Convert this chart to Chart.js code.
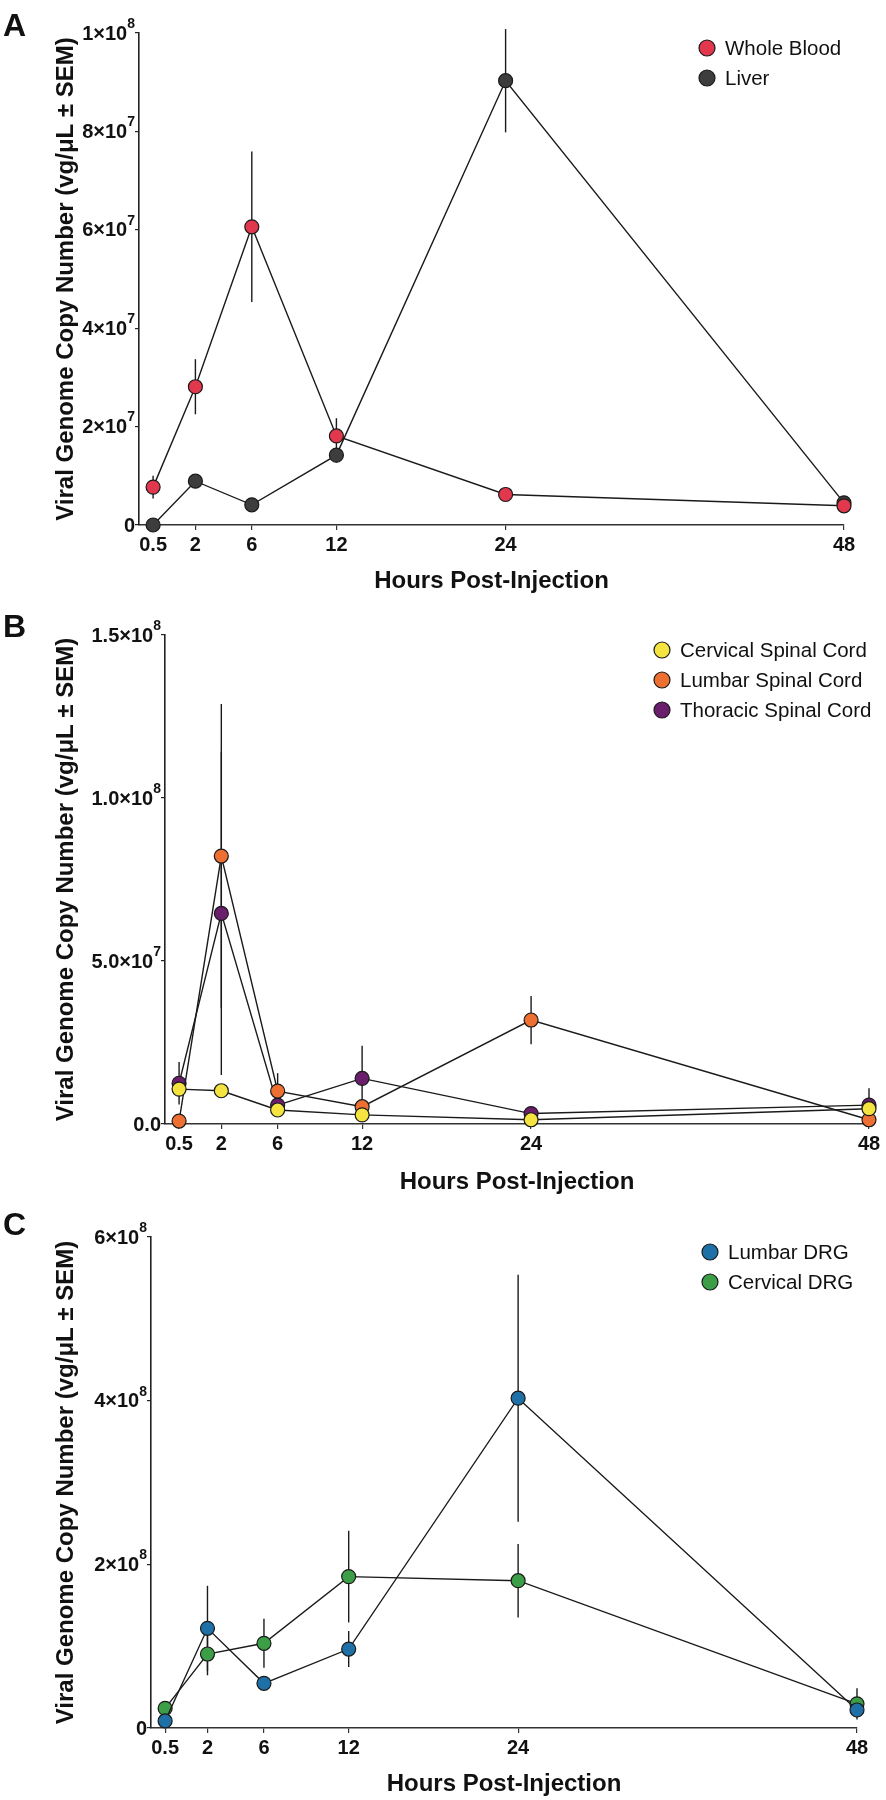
<!DOCTYPE html>
<html>
<head>
<meta charset="utf-8">
<script src="https://cdn.jsdelivr.net/npm/chart.js@4.4.1/dist/chart.umd.min.js"></script>
<style>
  body { margin: 0; background: #fff; }
  .panel { position: relative; width: 886px; height: 600px; }
  canvas { display: block; }
</style>
</head>
<body>
<div class="panel"><canvas id="chartA" width="886" height="600"></canvas></div>
<div class="panel"><canvas id="chartB" width="886" height="600"></canvas></div>
<div class="panel"><canvas id="chartC" width="886" height="600"></canvas></div>
<script>
// time points (hours post-injection)
const hours = [0.5, 2, 6, 12, 24, 48];

// panel A - whole blood / liver
const bloodMean = [7.7e6, 28.1e6, 60.6e6, 18.1e6, 6.2e6, 3.9e6];
const bloodSem  = [2.3e6, 5.6e6, 15.3e6, 3.6e6, 0.6e6, 0.5e6];
const liverMean = [0, 8.9e6, 4.1e6, 14.2e6, 90.3e6, 4.5e6];
const liverSem  = [0, 0.6e6, 0.5e6, 1.5e6, 10.5e6, 0.5e6];
const yTicksA  = [0, 2e7, 4e7, 6e7, 8e7, 1e8];
const yLabelsA = ['0', '2×10⁷', '4×10⁷', '6×10⁷', '8×10⁷', '1×10⁸'];

// panel B - spinal cord
const cervicalMean = [10.7e6, 10.2e6, 4.3e6, 2.8e6, 1.3e6, 4.7e6];
const cervicalSem  = [1.0e6, 1.0e6, 0.8e6, 0.5e6, 0.4e6, 1.0e6];
const lumbarMean   = [0.9e6, 82.2e6, 10.1e6, 5.3e6, 31.9e6, 1.3e6];
const lumbarSem    = [0.5e6, 46.6e6, 5.5e6, 1.5e6, 7.4e6, 0.5e6];
const thoracicMean = [12.5e6, 64.6e6, 5.8e6, 14.0e6, 3.2e6, 5.8e6];
const thoracicSem  = [6.5e6, 49.6e6, 1.5e6, 10.0e6, 0.5e6, 5.2e6];
const yTicksB  = [0, 5e7, 1e8, 1.5e8];
const yLabelsB = ['0.0', '5.0×10⁷', '1.0×10⁸', '1.5×10⁸'];

// panel C - DRG
const lumbarDrgMean   = [8.6e6, 121.8e6, 54.6e6, 96.5e6, 403e6, 22e6];
const lumbarDrgSem    = [3e6, 52e6, 5e6, 22e6, 151e6, 5e6];
const cervicalDrgMean = [24e6, 90.4e6, 103.5e6, 185e6, 180e6, 29.5e6];
const cervicalDrgSem  = [3e6, 26e6, 30e6, 56e6, 45e6, 19e6];
const yTicksC  = [0, 2e8, 4e8, 6e8];
const yLabelsC = ['0', '2×10⁸', '4×10⁸', '6×10⁸'];

const FONT = '"Liberation Sans", Arial, Helvetica, sans-serif';
Chart.defaults.font.family = FONT;
Chart.defaults.color = '#111';

// the original x axis squeezes in the 0.5 h point: the stretch below 2 h is doubled
const warpHours = h => (h >= 2 ? h : 2 - (2 - h) * 2);
class HoursScale extends Chart.LinearScale {
  getPixelForValue(value) {
    if (value === null || value === undefined) return NaN;
    return super.getPixelForValue(warpHours(value));
  }
}
HoursScale.id = 'hours';
HoursScale.defaults = Chart.LinearScale.defaults;
Chart.register(HoursScale);

// vertical SEM bars, no caps
const errorBars = {
  id: 'errorBars',
  beforeDatasetsDraw(chart) {
    const { ctx, scales: { x, y } } = chart;
    ctx.save();
    ctx.strokeStyle = '#1a1a1a';
    ctx.lineWidth = 1.4;
    chart.data.datasets.forEach(ds => {
      ds.data.forEach((pt, i) => {
        const e = ds.sem[i];
        if (!e) return;
        const px = x.getPixelForValue(pt.x);
        ctx.beginPath();
        ctx.moveTo(px, y.getPixelForValue(Math.max(0, pt.y - e)));
        ctx.lineTo(px, y.getPixelForValue(pt.y + e));
        ctx.stroke();
      });
    });
    ctx.restore();
  }
};

// y tick labels with a proper raised exponent (canvas text has no superscript)
const SUP = { '⁰': '0', '¹': '1', '²': '2', '³': '3', '⁴': '4', '⁵': '5', '⁶': '6', '⁷': '7', '⁸': '8', '⁹': '9' };
const sciTicks = {
  id: 'sciTicks',
  afterDraw(chart, args, opts) {
    const { ctx, scales: { y } } = chart;
    ctx.save();
    ctx.fillStyle = '#111';
    ctx.textAlign = 'right';
    ctx.textBaseline = 'middle';
    y.ticks.forEach((t, i) => {
      let base = opts.labels[i];
      let exp = '';
      while (base.length && SUP[base.slice(-1)]) {
        exp = SUP[base.slice(-1)] + exp;
        base = base.slice(0, -1);
      }
      const py = y.getPixelForValue(t.value);
      const right = y.right - 4;
      ctx.font = 'bold 14px ' + FONT;
      const ew = ctx.measureText(exp).width;
      if (exp) ctx.fillText(exp, right, py - 9);
      ctx.font = 'bold 20px ' + FONT;
      ctx.fillText(base, right - ew, py + 1);
    });
    ctx.restore();
  }
};

// panel letter + legend in the top right corner
const decor = {
  id: 'decor',
  afterDraw(chart, args, opts) {
    const ctx = chart.ctx;
    ctx.save();
    ctx.fillStyle = '#111';
    ctx.font = 'bold 32px ' + FONT;
    ctx.textBaseline = 'alphabetic';
    ctx.textAlign = 'left';
    ctx.fillText(opts.letter, 3, opts.letterY);

    ctx.font = '20.5px ' + FONT;
    ctx.textBaseline = 'middle';
    chart.data.datasets.forEach((ds, i) => {
      const cy = opts.legendY + i * opts.rowGap;
      ctx.beginPath();
      ctx.arc(opts.legendX, cy, 8, 0, Math.PI * 2);
      ctx.fillStyle = ds.pointBackgroundColor;
      ctx.fill();
      ctx.lineWidth = 1.2;
      ctx.strokeStyle = '#1a1a1a';
      ctx.stroke();
      ctx.fillStyle = '#111';
      ctx.fillText(ds.label, opts.legendX + 18, cy + 1);
    });
    ctx.restore();
  }
};

function series(label, color, mean, sem) {
  return {
    label: label,
    data: hours.map((h, i) => ({ x: h, y: mean[i] })),
    sem: sem,
    borderColor: '#1a1a1a',
    borderWidth: 1.4,
    pointRadius: 7,
    pointHoverRadius: 7,
    pointBackgroundColor: color,
    pointBorderColor: '#1a1a1a',
    pointBorderWidth: 1.2,
    tension: 0,
    clip: false
  };
}

function makeChart(id, datasets, yMax, yTicks, yLabels, box) {
  return new Chart(document.getElementById(id).getContext('2d'), {
    type: 'line',
    data: { datasets: datasets },
    options: {
      responsive: false,
      animation: false,
      events: [],
      layout: { padding: { left: 0, top: box.top, right: 886 - box.right, bottom: 0 } },
      plugins: {
        legend: { display: false },
        tooltip: { enabled: false },
        sciTicks: { labels: yLabels },
        decor: { letter: box.letter, letterY: box.letterY, legendX: box.legendX, legendY: box.legendY, rowGap: 30 }
      },
      scales: {
        x: {
          type: 'hours',
          min: -2,
          max: 48,
          afterBuildTicks: s => { s.ticks = hours.map(v => ({ value: v })); },
          afterFit: s => { s.height = 600 - box.bottom; },
          ticks: { callback: v => String(v), font: { size: 20, weight: 'bold' }, color: '#111', padding: 3, maxRotation: 0, autoSkip: false },
          grid: { display: true, drawOnChartArea: false, drawTicks: true, tickLength: 5, color: '#333', lineWidth: 1.2 },
          border: { display: true, color: '#333', width: 1.6 },
          title: { display: true, text: 'Hours Post-Injection', font: { size: 24, weight: 'bold' }, color: '#111', padding: { top: 4, bottom: box.titlePad } }
        },
        y: {
          type: 'linear',
          min: 0,
          max: yMax,
          afterBuildTicks: s => { s.ticks = yTicks.map(v => ({ value: v })); },
          afterFit: s => { s.width = box.left; },
          ticks: { display: false },
          grid: { display: true, drawOnChartArea: false, drawTicks: true, tickLength: 4, color: '#222', lineWidth: 1.2 },
          border: { display: true, color: '#222', width: 1.6 },
          title: { display: true, text: 'Viral Genome Copy Number (vg/μL ± SEM)', font: { size: 24, weight: 'bold' }, color: '#111', padding: { top: 52, bottom: 0 } }
        }
      }
    },
    plugins: [errorBars, sciTicks, decor]
  });
}

makeChart('chartA', [
  series('Whole Blood', '#e2384d', bloodMean, bloodSem),
  series('Liver', '#3d3d3d', liverMean, liverSem)
], 1e8, yTicksA, yLabelsA,
  { letter: 'A', letterY: 36, top: 33, bottom: 525, left: 139, right: 844, titlePad: 4, legendX: 707, legendY: 48 });

makeChart('chartB', [
  series('Cervical Spinal Cord', '#f5e440', cervicalMean, cervicalSem),
  series('Lumbar Spinal Cord', '#ee6f32', lumbarMean, lumbarSem),
  series('Thoracic Spinal Cord', '#6a1e6c', thoracicMean, thoracicSem)
], 1.5e8, yTicksB, yLabelsB,
  { letter: 'B', letterY: 37, top: 35, bottom: 524, left: 165, right: 869, titlePad: 3, legendX: 662, legendY: 50 });

makeChart('chartC', [
  series('Lumbar DRG', '#1f70a6', lumbarDrgMean, lumbarDrgSem),
  series('Cervical DRG', '#3d9e48', cervicalDrgMean, cervicalDrgSem)
], 6e8, yTicksC, yLabelsC,
  { letter: 'C', letterY: 35, top: 37, bottom: 528, left: 151, right: 857, titlePad: 1, legendX: 710, legendY: 52 });
</script>
</body>
</html>
